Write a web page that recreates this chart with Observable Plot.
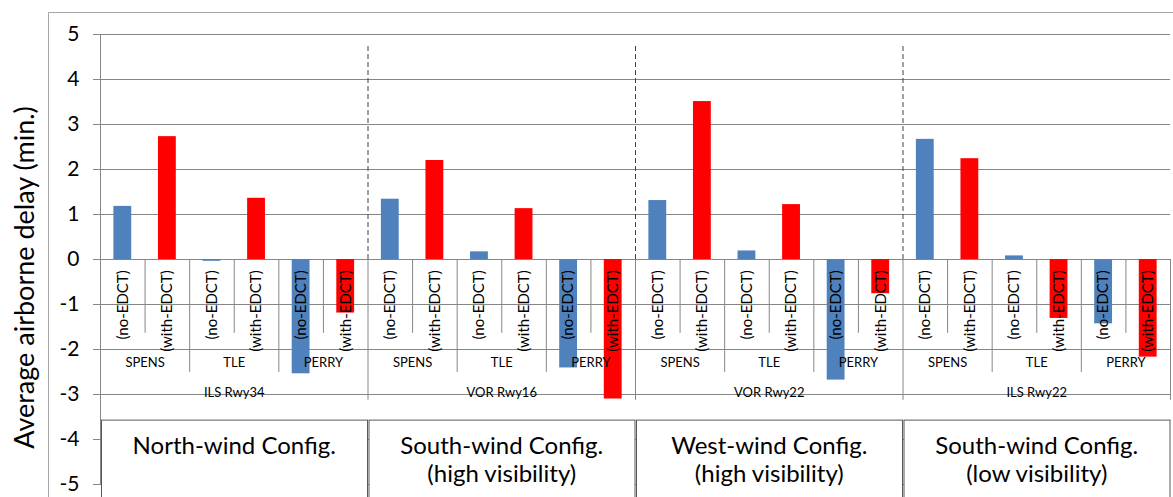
<!DOCTYPE html>
<html>
<head>
<meta charset="utf-8">
<script src="https://cdn.jsdelivr.net/npm/d3@7"></script>
<script src="https://cdn.jsdelivr.net/npm/@observablehq/plot@0.6"></script>
<style>
  html, body { margin: 0; padding: 0; background: #fff; }
  svg { display: block; }
</style>
</head>
<body>
<script>
// Runway configurations (one group of bars each)
const runways = ["ILS Rwy34", "VOR Rwy16", "VOR Rwy22", "ILS Rwy22"];
const configs = [
  "North-wind Config.",
  "South-wind Config.\n(high visibility)",
  "West-wind Config.\n(high visibility)",
  "South-wind Config.\n(low visibility)"
];
// Arrival fixes within each configuration
const fixes = ["SPENS", "TLE", "PERRY"];
// Scenarios
const modes = ["(no-EDCT)", "(with-EDCT)"];
// Average airborne delay (min.), ordered runway by runway, fix by fix
const noEdct   = [1.18, -0.04, -2.54, 1.34, 0.17, -2.41, 1.31, 0.19, -2.68, 2.67, 0.08, -1.43];
const withEdct = [2.73,  1.36, -1.19, 2.20, 1.13, -3.10, 3.51, 1.22, -0.76, 2.24, -1.31, -2.17];
const yTicks = [-5, -4, -3, -2, -1, 0, 1, 2, 3, 4, 5];

// One row per bar; slot index runs left to right across the chart
const rows = [];
runways.forEach((rwy, g) => {
  fixes.forEach((fix, s) => {
    modes.forEach((mode, m) => {
      const k = g * fixes.length + s;
      rows.push({
        slot: (g * fixes.length + s) * modes.length + m,
        runway: rwy, fix, mode,
        value: (m === 0 ? noEdct : withEdct)[k]
      });
    });
  });
});

const perFix = modes.length;
const perGroup = fixes.length * perFix;
const nSlots = runways.length * perGroup;

// Boundary positions for the category table lines
const modeSeps = d3.range(1, nSlots, perFix);
const fixSeps = d3.range(perFix, nSlots, perFix).filter(v => v % perGroup !== 0);
const groupSeps = d3.range(perGroup, nSlots + 1, perGroup);
const innerGroupSeps = groupSeps.filter(v => v < nSlots);

const fixLabels = [];
runways.forEach((rwy, g) => fixes.forEach((fix, s) => {
  fixLabels.push({pos: g * perGroup + s * perFix + perFix / 2, fix});
}));

const grid = "#868686";
const font = "Lato, 'Open Sans', sans-serif";

const chart = Plot.plot({
  width: 1173,
  height: 497,
  marginTop: 34,
  marginBottom: 13,
  marginLeft: 100,
  marginRight: 3,
  style: {fontFamily: font, background: "#fff", color: "#000"},
  x: {type: "linear", domain: [0, nSlots], axis: null},
  y: {domain: [-5, 5], axis: null},
  color: {domain: modes, range: ["#4F81BD", "#FF0000"]},
  marks: [
    // gridlines and value axis
    Plot.ruleY(yTicks, {stroke: grid, strokeWidth: 1}),
    Plot.axisY({
      ticks: yTicks, tickSize: 7, tickPadding: 14, fontSize: 21, label: null,
      tickFormat: d => String(d), stroke: grid, fill: "#000"
    }),
    Plot.ruleX([0], {y1: -5, y2: 5, stroke: grid}),
    // dashed dividers between configurations
    Plot.ruleX(innerGroupSeps, {y1: 0, y2: 4.8, stroke: "#404040", strokeDasharray: "5,3"}),
    // category table lines
    Plot.ruleX(modeSeps, {y1: 0, y2: -1.64, stroke: grid}),
    Plot.ruleX(fixSeps, {y1: 0, y2: -2.51, stroke: grid}),
    Plot.ruleX(groupSeps, {y1: 0, y2: -3.13, stroke: grid}),
    // bars
    Plot.rect(rows, {
      x1: d => d.slot + 0.3, x2: d => d.slot + 0.7,
      y1: () => 0, y2: "value", fill: "mode"
    }),
    // category labels
    Plot.text(rows, {
      x: d => d.slot + 0.5, y: () => -0.24, text: "mode",
      rotate: -90, textAnchor: "end", fontSize: 15, fill: "#000"
    }),
    Plot.text(fixLabels, {x: "pos", y: () => -2.3, text: "fix", fontSize: 13, fill: "#000"}),
    Plot.text(runways, {
      x: (d, i) => i * perGroup + perGroup / 2, y: () => -2.96,
      text: d => d, fontSize: 13, fill: "#000"
    }),
    // configuration boxes
    Plot.rect(configs, {
      x1: (d, i) => i * perGroup, x2: (d, i) => (i + 1) * perGroup,
      y1: () => -3.58, y2: () => -5.3,
      fill: "#fff", stroke: "#595959", insetLeft: 1.5
    }),
    Plot.text(configs, {
      x: (d, i) => i * perGroup + perGroup / 2, y: () => -3.58,
      text: d => d, lineAnchor: "top", dy: 14, fontSize: 24, lineHeight: 1.15, fill: "#000"
    }),
    // value axis title
    Plot.text(["Average airborne delay (min.)"], {
      frameAnchor: "left", textAnchor: "middle", dx: -75, dy: 18,
      rotate: -90, fontSize: 27, fill: "#000"
    })
  ]
});

// light border round the chart area
d3.select(chart).insert("path", ":first-child")
  .attr("d", "M48.5,497V12.5H1173")
  .attr("fill", "none")
  .attr("stroke", "#a6a6a6");

document.body.appendChild(chart);
</script>
</body>
</html>
